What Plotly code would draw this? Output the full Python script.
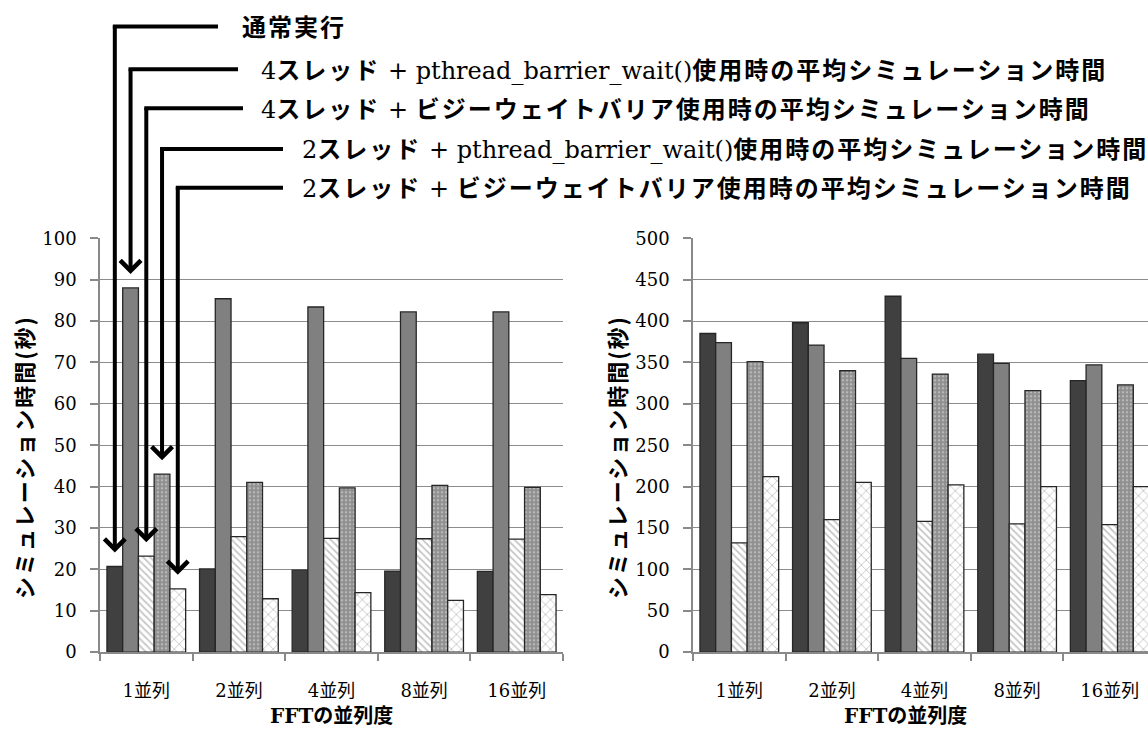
import plotly.graph_objects as go

# ---- data -------------------------------------------------------------
categories = ["1並列", "2並列", "4並列", "8並列", "16並列"]

series_names = [
    "通常実行",
    "4スレッド + pthread_barrier_wait()使用時の平均シミュレーション時間",
    "4スレッド + ビジーウェイトバリア使用時の平均シミュレーション時間",
    "2スレッド + pthread_barrier_wait()使用時の平均シミュレーション時間",
    "2スレッド + ビジーウェイトバリア使用時の平均シミュレーション時間",
]

# left chart, seconds
left_normal = [20.7, 20.1, 19.8, 19.6, 19.5]
left_4t_pthread = [88.0, 85.4, 83.4, 82.2, 82.2]
left_4t_busy = [23.2, 27.9, 27.5, 27.4, 27.3]
left_2t_pthread = [43.0, 41.0, 39.7, 40.3, 39.8]
left_2t_busy = [15.3, 12.9, 14.4, 12.5, 13.9]

# right chart, seconds
right_normal = [385, 398, 430, 360, 328]
right_4t_pthread = [374, 371, 355, 349, 347]
right_4t_busy = [132, 160, 158, 155, 154]
right_2t_pthread = [351, 340, 336, 316, 323]
right_2t_busy = [212, 205, 202, 200, 200]

left_series = [left_normal, left_4t_pthread, left_4t_busy, left_2t_pthread, left_2t_busy]
right_series = [right_normal, right_4t_pthread, right_4t_busy, right_2t_pthread, right_2t_busy]

y_title = "シミュレーション時間(秒)"
x_title = "FFTの並列度"

# ---- geometry ---------------------------------------------------------
W, H = 1148, 735
BARGAP = 0.15
N_SERIES = len(series_names)


def px_x(px):
    return px / W


def px_y(py):
    return 1 - py / H


L_X0, L_X1 = 100, 563
R_X0, R_X1 = 693, 1148
P_TOP, P_BOT = 234, 660
CAT_W = (L_X1 - L_X0) / len(categories)
right_span = (R_X1 - R_X0) / CAT_W

SERIF = "DejaVu Serif, Noto Sans CJK JP, serif"
GOTHIC = "Noto Sans CJK JP, sans-serif"
AXIS_GRAY = "#898989"
OUTLINE = "#262626"

styles = [
    dict(color="#404040"),
    dict(color="#808080"),
    dict(color="white", pattern=dict(shape="\\", bgcolor="white", fgcolor="#8f8f8f",
                                     size=5, solidity=0.35)),
    dict(color="#8e8e8e", pattern=dict(shape=".", bgcolor="#8e8e8e", fgcolor="#e0e0e0",
                                       size=4, solidity=0.35)),
    dict(color="white", pattern=dict(shape="x", bgcolor="white", fgcolor="#8c8c8c",
                                     size=7, solidity=0.24)),
]

fig = go.Figure()
for axes, data in ((("x", "y"), left_series), (("x2", "y2"), right_series)):
    for i, vals in enumerate(data):
        marker = dict(styles[i])
        marker["line"] = dict(color=OUTLINE, width=1.3)
        fig.add_trace(go.Bar(
            x=categories, y=vals, name=series_names[i],
            xaxis=axes[0], yaxis=axes[1], marker=marker,
            offsetgroup=str(i), showlegend=False,
        ))

tickfont = dict(family=SERIF, size=18, color="black")
xaxis_common = dict(
    type="category", showline=True, linecolor=AXIS_GRAY, linewidth=1.5,
    ticks="outside", tickson="boundaries", ticklen=7, tickcolor=AXIS_GRAY,
    tickwidth=1.5, showgrid=False, zeroline=False, tickfont=tickfont,
    ticklabelstandoff=22, fixedrange=True,
)
yaxis_common = dict(
    showline=True, linecolor=AXIS_GRAY, linewidth=1.5, ticks="outside",
    ticklen=8, tickcolor=AXIS_GRAY, tickwidth=1.5, showgrid=True,
    gridcolor="#8c8c8c", gridwidth=1.2, zeroline=False, tickfont=tickfont,
    ticklabelstandoff=10, fixedrange=True,
)

fig.update_layout(
    width=W, height=H, margin=dict(l=0, r=0, t=0, b=0),
    paper_bgcolor="white", plot_bgcolor="white",
    barmode="group", bargap=BARGAP, bargroupgap=0, showlegend=False,
    xaxis=dict(xaxis_common, domain=[px_x(L_X0), px_x(L_X1)], anchor="y",
               range=[-0.5, len(categories) - 0.5]),
    yaxis=dict(yaxis_common, domain=[px_y(P_BOT), px_y(P_TOP)], anchor="x",
               range=[0, 100], dtick=10),
    xaxis2=dict(xaxis_common, domain=[px_x(R_X0), px_x(R_X1)], anchor="y2",
                range=[-0.5, -0.5 + right_span]),
    yaxis2=dict(yaxis_common, domain=[px_y(P_BOT), px_y(P_TOP)], anchor="x2",
                range=[0, 500], dtick=50),
)

# ---- axis titles ------------------------------------------------------
annotations = []
for cx in ((L_X0 + L_X1) / 2, 905):
    annotations.append(dict(
        xref="paper", yref="paper", x=px_x(cx), y=px_y(726),
        text="<b>" + x_title + "</b>", showarrow=False,
        font=dict(family=SERIF, size=20, color="black"),
        xanchor="center", yanchor="middle",
    ))
for tx in (L_X0 - 77, R_X0 - 77):
    annotations.append(dict(
        xref="paper", yref="paper", x=px_x(tx), y=px_y(459),
        text='<span style="font-weight:bold;letter-spacing:2px">' + y_title + "</span>",
        showarrow=False, textangle=-90,
        font=dict(family=GOTHIC, size=22, color="black"),
        xanchor="center", yanchor="middle",
    ))

# ---- bracket legend pointing at the 1並列 group of the left chart --------
CJK_STYLE = "font-weight:bold;letter-spacing:2px"


def cjk(s):
    return '<span style="%s">%s</span>' % (CJK_STYLE, s)


legend_texts = [
    cjk("通常実行"),
    "4" + cjk("スレッド") + " + pthread_barrier_wait()" + cjk("使用時の平均シミュレーション時間"),
    "4" + cjk("スレッド") + " + " + cjk("ビジーウェイトバリア使用時の平均シミュレーション時間"),
    "2" + cjk("スレッド") + " + pthread_barrier_wait()" + cjk("使用時の平均シミュレーション時間"),
    "2" + cjk("スレッド") + " + " + cjk("ビジーウェイトバリア使用時の平均シミュレーション時間"),
]
legend_rows = [16, 60, 100, 142, 182]      # pixel rows of the bracket lines
legend_text_x = [240, 259, 259, 300, 300]  # where each label starts
legend_line_end = [218, 238, 243, 283, 283]
LINE_W = 4

bar_w = (1 - BARGAP) / N_SERIES
shapes = []
for i in range(N_SERIES):
    # bar centre of series i inside the first category
    xc = -0.5 + BARGAP / 2 + bar_w * (i + 0.5)
    x_px = L_X0 + (xc + 0.5) * CAT_W
    row = legend_rows[i]
    tail_val = (P_BOT - (row - LINE_W / 2)) / (P_BOT - P_TOP) * 100
    annotations.append(dict(
        xref="x", yref="y", x=xc, y=left_series[i][0],
        axref="x", ayref="y", ax=xc, ay=tail_val,
        text="", showarrow=True, arrowhead=4, arrowsize=1.0,
        arrowwidth=LINE_W, arrowcolor="black", standoff=14,
    ))
    shapes.append(dict(
        type="line", xref="paper", yref="paper",
        x0=px_x(x_px - LINE_W / 2), x1=px_x(legend_line_end[i]),
        y0=px_y(row), y1=px_y(row),
        line=dict(color="black", width=LINE_W),
    ))
    annotations.append(dict(
        xref="paper", yref="paper", x=px_x(legend_text_x[i]), y=px_y(row + 1),
        text=legend_texts[i], showarrow=False, xanchor="left", yanchor="middle",
        font=dict(family=SERIF, size=24, color="black"),
    ))

fig.update_layout(annotations=annotations, shapes=shapes)

fig.write_html("out.html")
